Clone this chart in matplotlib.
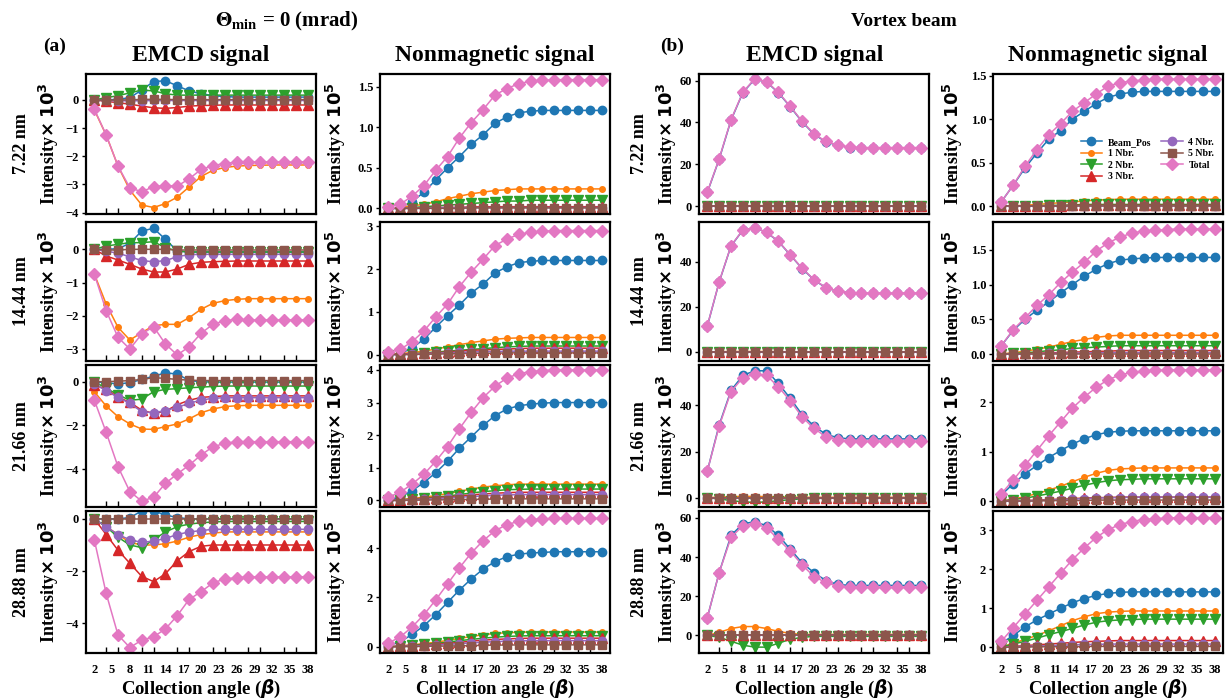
import matplotlib
matplotlib.use('Agg')
import matplotlib.pyplot as plt
from matplotlib.ticker import FixedLocator

plt.rcParams['font.family'] = ['Liberation Serif', 'DejaVu Sans']
plt.rcParams['font.weight'] = 'bold'
plt.rcParams['mathtext.fontset'] = 'dejavusans'

# ---------------- data ----------------
angles = [2, 4, 6, 8, 10, 12, 14, 16, 18, 20, 22, 24, 26, 28, 30, 32, 34, 36, 38]
xtick_values = [2, 5, 8, 11, 14, 17, 20, 23, 26, 29, 32, 35, 38]
series_names = ['Beam_Pos', '1 Nbr.', '2 Nbr.', '3 Nbr.', '4 Nbr.', '5 Nbr.', 'Total']
thickness_labels = ['7.22 nm', '14.44 nm', '21.66 nm', '28.88 nm']

# (a) EMCD signal, x 10^3
a_emcd_722 = {
    'Beam_Pos': [0, 0.0, 0.02, 0.08, 0.35, 0.65, 0.68, 0.5, 0.32, 0.22, 0.15, 0.12, 0.1, 0.1, 0.1, 0.1, 0.1, 0.1, 0.1],
    '1 Nbr.': [-0.35, -1.25, -2.35, -3.2, -3.73, -3.82, -3.68, -3.45, -3.09, -2.72, -2.5, -2.4, -2.35, -2.33, -2.32, -2.31, -2.31, -2.31, -2.31],
    '2 Nbr.': [0, 0.08, 0.15, 0.25, 0.35, 0.32, 0.22, 0.17, 0.17, 0.17, 0.17, 0.17, 0.17, 0.17, 0.17, 0.17, 0.17, 0.17, 0.17],
    '3 Nbr.': [0, -0.05, -0.1, -0.15, -0.22, -0.28, -0.3, -0.27, -0.22, -0.2, -0.19, -0.18, -0.18, -0.18, -0.18, -0.18, -0.18, -0.18, -0.18],
    '4 Nbr.': [0, -0.02, -0.03, -0.03, -0.03, -0.02, -0.02, -0.02, -0.02, -0.02, -0.02, -0.02, -0.02, -0.02, -0.02, -0.02, -0.02, -0.02, -0.02],
    '5 Nbr.': [0, -0.01, 0, 0, 0.02, 0.02, 0.02, 0.01, 0.01, 0.01, 0.01, 0.01, 0.01, 0.01, 0.01, 0.01, 0.01, 0.01, 0.01],
    'Total': [-0.33, -1.24, -2.35, -3.12, -3.26, -3.08, -3.04, -3.06, -2.8, -2.47, -2.33, -2.26, -2.21, -2.2, -2.2, -2.2, -2.2, -2.2, -2.2],
}
a_emcd_1444 = {
    'Beam_Pos': [0, 0, 0.02, 0.18, 0.55, 0.63, 0.3, -0.05, -0.08, -0.08, -0.08, -0.08, -0.08, -0.08, -0.08, -0.08, -0.08, -0.08, -0.08],
    '1 Nbr.': [-0.74, -1.64, -2.34, -2.72, -2.5, -2.29, -2.25, -2.25, -2.05, -1.8, -1.62, -1.54, -1.5, -1.48, -1.48, -1.48, -1.48, -1.48, -1.48],
    '2 Nbr.': [0, 0.1, 0.15, 0.2, 0.2, 0.23, 0.05, -0.05, -0.08, -0.08, -0.08, -0.08, -0.08, -0.08, -0.08, -0.08, -0.08, -0.08, -0.08],
    '3 Nbr.': [0, -0.2, -0.32, -0.45, -0.59, -0.68, -0.68, -0.59, -0.45, -0.39, -0.37, -0.36, -0.35, -0.35, -0.35, -0.35, -0.35, -0.35, -0.35],
    '4 Nbr.': [0, -0.05, -0.12, -0.22, -0.34, -0.37, -0.34, -0.22, -0.16, -0.15, -0.15, -0.15, -0.15, -0.15, -0.15, -0.15, -0.15, -0.15, -0.15],
    '5 Nbr.': [0, -0.02, -0.02, 0, 0, 0, 0, -0.02, -0.02, -0.02, -0.02, -0.02, -0.02, -0.02, -0.02, -0.02, -0.02, -0.02, -0.02],
    'Total': [-0.74, -1.84, -2.64, -2.99, -2.54, -2.32, -2.84, -3.17, -2.92, -2.52, -2.25, -2.14, -2.1, -2.12, -2.12, -2.12, -2.12, -2.12, -2.12],
}
a_emcd_2166 = {
    'Beam_Pos': [0, -0.05, -0.1, -0.05, 0.1, 0.25, 0.4, 0.35, 0.05, 0.0, -0.02, -0.02, -0.02, -0.02, -0.02, -0.02, -0.02, -0.02, -0.02],
    '1 Nbr.': [-0.46, -1.11, -1.6, -1.93, -2.16, -2.18, -2.05, -1.93, -1.7, -1.42, -1.25, -1.14, -1.1, -1.08, -1.08, -1.08, -1.08, -1.08, -1.08],
    '2 Nbr.': [0, -0.3, -0.6, -0.85, -0.8, -0.46, -0.35, -0.32, -0.28, -0.25, -0.22, -0.2, -0.2, -0.2, -0.2, -0.2, -0.2, -0.2, -0.2],
    '3 Nbr.': [-0.15, -0.35, -0.7, -0.95, -1.3, -1.45, -1.35, -1.05, -0.85, -0.72, -0.68, -0.65, -0.65, -0.65, -0.65, -0.65, -0.65, -0.65, -0.65],
    '4 Nbr.': [-0.1, -0.41, -0.72, -0.99, -1.37, -1.42, -1.32, -1.17, -0.99, -0.84, -0.76, -0.73, -0.73, -0.73, -0.73, -0.73, -0.73, -0.73, -0.73],
    '5 Nbr.': [0, 0, 0.02, 0.05, 0.1, 0.18, 0.15, 0.1, 0.07, 0.05, 0.05, 0.05, 0.05, 0.05, 0.05, 0.05, 0.05, 0.05, 0.05],
    'Total': [-0.84, -2.31, -3.88, -5.02, -5.45, -5.28, -4.64, -4.21, -3.81, -3.35, -2.97, -2.82, -2.74, -2.74, -2.74, -2.74, -2.74, -2.74, -2.74],
}
a_emcd_2888 = {
    'Beam_Pos': [0, 0, 0, 0.05, 0.3, 0.3, 0.15, 0.05, 0, 0, 0, 0, 0, 0, 0, 0, 0, 0, 0],
    '1 Nbr.': [0, -0.3, -0.6, -0.9, -1.0, -1.0, -0.95, -0.85, -0.7, -0.6, -0.55, -0.5, -0.5, -0.5, -0.5, -0.5, -0.5, -0.5, -0.5],
    '2 Nbr.': [0, -0.3, -0.7, -1.0, -1.1, -0.8, -0.5, -0.3, -0.2, -0.15, -0.12, -0.1, -0.1, -0.1, -0.1, -0.1, -0.1, -0.1, -0.1],
    '3 Nbr.': [0, -0.6, -1.2, -1.7, -2.2, -2.4, -2.1, -1.6, -1.25, -1.05, -1.0, -1.0, -1.0, -1.0, -1.0, -1.0, -1.0, -1.0, -1.0],
    '4 Nbr.': [0, -0.3, -0.6, -0.8, -0.9, -0.85, -0.75, -0.6, -0.5, -0.45, -0.4, -0.4, -0.4, -0.4, -0.4, -0.4, -0.4, -0.4, -0.4],
    '5 Nbr.': [0, 0, 0, 0, 0, 0, 0, 0, 0, 0, 0, 0, 0, 0, 0, 0, 0, 0, 0],
    'Total': [-0.8, -2.85, -4.44, -4.92, -4.64, -4.51, -4.21, -3.7, -3.08, -2.79, -2.45, -2.3, -2.25, -2.22, -2.22, -2.22, -2.22, -2.22, -2.22],
}

# (a) Nonmagnetic signal, x 10^5
a_nonmag_722 = {
    'Beam_Pos': [0.0, 0.01, 0.08, 0.2, 0.35, 0.5, 0.64, 0.79, 0.91, 1.05, 1.13, 1.18, 1.2, 1.21, 1.21, 1.21, 1.21, 1.21, 1.21],
    '1 Nbr.': [0, 0.01, 0.03, 0.05, 0.08, 0.12, 0.15, 0.18, 0.2, 0.22, 0.23, 0.24, 0.24, 0.24, 0.24, 0.24, 0.24, 0.24, 0.24],
    '2 Nbr.': [0, 0, 0.01, 0.02, 0.03, 0.04, 0.05, 0.06, 0.07, 0.08, 0.09, 0.09, 0.1, 0.1, 0.1, 0.1, 0.1, 0.1, 0.1],
    '3 Nbr.': [0, 0, 0, 0.01, 0.01, 0.01, 0.01, 0.02, 0.02, 0.02, 0.02, 0.02, 0.02, 0.02, 0.02, 0.02, 0.02, 0.02, 0.02],
    '4 Nbr.': [0, 0, 0, 0, 0.01, 0.01, 0.01, 0.01, 0.01, 0.01, 0.01, 0.01, 0.01, 0.01, 0.01, 0.01, 0.01, 0.01, 0.01],
    '5 Nbr.': [0, 0, 0, 0, 0, 0, 0, 0.005, 0.005, 0.005, 0.005, 0.005, 0.005, 0.005, 0.005, 0.005, 0.005, 0.005, 0.005],
    'Total': [0.02, 0.05, 0.15, 0.28, 0.47, 0.64, 0.87, 1.06, 1.22, 1.4, 1.48, 1.54, 1.57, 1.58, 1.59, 1.59, 1.59, 1.59, 1.59],
}
a_nonmag_1444 = {
    'Beam_Pos': [0, 0.02, 0.15, 0.36, 0.64, 0.91, 1.16, 1.44, 1.65, 1.91, 2.05, 2.15, 2.18, 2.2, 2.2, 2.2, 2.2, 2.2, 2.2],
    '1 Nbr.': [0, 0.02, 0.05, 0.08, 0.13, 0.18, 0.23, 0.28, 0.32, 0.36, 0.38, 0.39, 0.4, 0.4, 0.4, 0.4, 0.4, 0.4, 0.4],
    '2 Nbr.': [0, 0.01, 0.02, 0.04, 0.06, 0.08, 0.1, 0.12, 0.14, 0.16, 0.18, 0.19, 0.2, 0.2, 0.2, 0.2, 0.2, 0.2, 0.2],
    '3 Nbr.': [0, 0.01, 0.02, 0.03, 0.04, 0.06, 0.08, 0.1, 0.11, 0.12, 0.13, 0.14, 0.15, 0.15, 0.15, 0.15, 0.15, 0.15, 0.15],
    '4 Nbr.': [0, 0, 0.01, 0.02, 0.03, 0.04, 0.05, 0.06, 0.07, 0.07, 0.08, 0.08, 0.08, 0.08, 0.08, 0.08, 0.08, 0.08, 0.08],
    '5 Nbr.': [0, 0, 0, 0.01, 0.01, 0.02, 0.02, 0.03, 0.03, 0.03, 0.04, 0.04, 0.04, 0.04, 0.04, 0.04, 0.04, 0.04, 0.04],
    'Total': [0.05, 0.12, 0.3, 0.55, 0.88, 1.18, 1.59, 1.93, 2.23, 2.55, 2.7, 2.81, 2.86, 2.88, 2.9, 2.9, 2.9, 2.9, 2.9],
}
a_nonmag_2166 = {
    'Beam_Pos': [0.02, 0.1, 0.3, 0.55, 0.85, 1.2, 1.6, 1.95, 2.3, 2.6, 2.8, 2.9, 2.95, 2.98, 3.0, 3.0, 3.0, 3.0, 3.0],
    '1 Nbr.': [0, 0.03, 0.06, 0.1, 0.15, 0.21, 0.28, 0.35, 0.41, 0.45, 0.48, 0.5, 0.5, 0.5, 0.5, 0.5, 0.5, 0.5, 0.5],
    '2 Nbr.': [0, 0.02, 0.04, 0.07, 0.1, 0.14, 0.18, 0.23, 0.27, 0.3, 0.33, 0.34, 0.35, 0.35, 0.35, 0.35, 0.35, 0.35, 0.35],
    '3 Nbr.': [0, 0.01, 0.03, 0.05, 0.08, 0.11, 0.14, 0.17, 0.2, 0.22, 0.24, 0.25, 0.25, 0.25, 0.25, 0.25, 0.25, 0.25, 0.25],
    '4 Nbr.': [0, 0.01, 0.02, 0.04, 0.06, 0.08, 0.1, 0.12, 0.14, 0.16, 0.17, 0.18, 0.18, 0.18, 0.18, 0.18, 0.18, 0.18, 0.18],
    '5 Nbr.': [0, 0, 0.01, 0.01, 0.02, 0.02, 0.03, 0.03, 0.04, 0.04, 0.05, 0.05, 0.05, 0.05, 0.05, 0.05, 0.05, 0.05, 0.05],
    'Total': [0.1, 0.25, 0.5, 0.8, 1.2, 1.65, 2.2, 2.7, 3.15, 3.5, 3.75, 3.88, 3.95, 3.98, 4.0, 4.0, 4.0, 4.0, 4.0],
}
a_nonmag_2888 = {
    'Beam_Pos': [0.05, 0.2, 0.5, 0.85, 1.3, 1.8, 2.3, 2.75, 3.15, 3.45, 3.65, 3.75, 3.8, 3.82, 3.85, 3.85, 3.85, 3.85, 3.85],
    '1 Nbr.': [0, 0.04, 0.08, 0.13, 0.19, 0.26, 0.34, 0.42, 0.49, 0.54, 0.57, 0.59, 0.6, 0.6, 0.6, 0.6, 0.6, 0.6, 0.6],
    '2 Nbr.': [0, 0.03, 0.06, 0.1, 0.14, 0.19, 0.25, 0.3, 0.35, 0.39, 0.42, 0.44, 0.45, 0.45, 0.45, 0.45, 0.45, 0.45, 0.45],
    '3 Nbr.': [0, 0.02, 0.04, 0.07, 0.1, 0.14, 0.18, 0.23, 0.27, 0.3, 0.32, 0.34, 0.35, 0.35, 0.35, 0.35, 0.35, 0.35, 0.35],
    '4 Nbr.': [0, 0.02, 0.03, 0.05, 0.07, 0.1, 0.13, 0.16, 0.19, 0.21, 0.23, 0.24, 0.25, 0.25, 0.25, 0.25, 0.25, 0.25, 0.25],
    '5 Nbr.': [0, 0.01, 0.01, 0.02, 0.03, 0.03, 0.04, 0.05, 0.06, 0.07, 0.07, 0.08, 0.08, 0.08, 0.08, 0.08, 0.08, 0.08, 0.08],
    'Total': [0.15, 0.4, 0.8, 1.3, 1.9, 2.55, 3.2, 3.8, 4.3, 4.7, 4.95, 5.08, 5.15, 5.18, 5.2, 5.2, 5.2, 5.2, 5.2],
}

# (b) Vortex beam, EMCD signal, x 10^3
b_emcd_722 = {
    'Beam_Pos': [6.5, 22.4, 41.1, 54.3, 60.7, 59.4, 54.2, 47.5, 40.3, 34.4, 30.7, 29.1, 28.0, 27.8, 27.8, 27.8, 27.8, 27.8, 27.8],
    '1 Nbr.': [0, 0.1, 0.2, 0.2, 0.2, 0.2, 0.1, 0.1, 0.1, 0.1, 0.1, 0.1, 0.1, 0.1, 0.1, 0.1, 0.1, 0.1, 0.1],
    '2 Nbr.': [0, 0, 0, 0, 0, 0, 0, 0, 0, 0, 0, 0, 0, 0, 0, 0, 0, 0, 0],
    '3 Nbr.': [0, 0, 0, 0, 0, 0, 0, 0, 0, 0, 0, 0, 0, 0, 0, 0, 0, 0, 0],
    '4 Nbr.': [0, 0, 0, 0, 0, 0, 0, 0, 0, 0, 0, 0, 0, 0, 0, 0, 0, 0, 0],
    '5 Nbr.': [0, 0, 0, 0, 0, 0, 0, 0, 0, 0, 0, 0, 0, 0, 0, 0, 0, 0, 0],
    'Total': [6.6, 22.6, 41.3, 54.5, 60.9, 59.6, 54.4, 47.7, 40.5, 34.6, 30.9, 29.3, 28.2, 28.0, 28.0, 28.0, 28.0, 28.0, 28.0],
}
b_emcd_1444 = {
    'Beam_Pos': [11.4, 30.9, 46.9, 53.9, 54.9, 52.9, 48.9, 42.9, 36.9, 31.9, 28.4, 26.9, 26.2, 25.9, 25.9, 25.9, 25.9, 25.9, 25.9],
    '1 Nbr.': [0, 0.1, 0.2, 0.2, 0.2, 0.2, 0.1, 0.1, 0.1, 0.1, 0.1, 0.1, 0.1, 0.1, 0.1, 0.1, 0.1, 0.1, 0.1],
    '2 Nbr.': [0, 0, 0, 0, 0, 0, 0, 0, 0, 0, 0, 0, 0, 0, 0, 0, 0, 0, 0],
    '3 Nbr.': [0, 0, 0, 0, 0, 0, 0, 0, 0, 0, 0, 0, 0, 0, 0, 0, 0, 0, 0],
    '4 Nbr.': [0, 0, 0, 0, 0, 0, 0, 0, 0, 0, 0, 0, 0, 0, 0, 0, 0, 0, 0],
    '5 Nbr.': [0, 0, 0, 0, 0, 0, 0, 0, 0, 0, 0, 0, 0, 0, 0, 0, 0, 0, 0],
    'Total': [11.5, 31.0, 47.0, 54.0, 55.0, 53.0, 49.0, 43.0, 37.0, 32.0, 28.5, 27.0, 26.3, 26.0, 26.0, 26.0, 26.0, 26.0, 26.0],
}
b_emcd_2166 = {
    'Beam_Pos': [11.5, 31.5, 46.5, 53.0, 55.0, 55.0, 49.5, 43.0, 36.0, 31.0, 27.5, 26.0, 25.5, 25.5, 25.5, 25.5, 25.5, 25.5, 25.5],
    '1 Nbr.': [0, 0.3, 0.5, 0.6, 0.6, 0.5, 0.4, 0.3, 0.2, 0.2, 0.2, 0.2, 0.2, 0.2, 0.2, 0.2, 0.2, 0.2, 0.2],
    '2 Nbr.': [0, -0.5, -1.2, -1.8, -2.0, -1.8, -1.3, -0.8, -0.5, -0.3, -0.2, -0.2, -0.2, -0.2, -0.2, -0.2, -0.2, -0.2, -0.2],
    '3 Nbr.': [0, 0, 0, 0, 0, 0, 0, 0, 0, 0, 0, 0, 0, 0, 0, 0, 0, 0, 0],
    '4 Nbr.': [0, 0, 0, 0, 0, 0, 0, 0, 0, 0, 0, 0, 0, 0, 0, 0, 0, 0, 0],
    '5 Nbr.': [0, 0, 0, 0, 0, 0, 0, 0, 0, 0, 0, 0, 0, 0, 0, 0, 0, 0, 0],
    'Total': [11.5, 31.0, 46.0, 52.0, 53.5, 53.0, 48.0, 42.0, 35.0, 30.0, 26.5, 25.0, 24.5, 24.5, 24.5, 24.5, 24.5, 24.5, 24.5],
}
b_emcd_2888 = {
    'Beam_Pos': [9.0, 32.0, 51.0, 57.0, 58.0, 56.0, 51.0, 44.0, 37.0, 32.0, 28.0, 26.0, 25.5, 25.5, 25.5, 25.5, 25.5, 25.5, 25.5],
    '1 Nbr.': [0, 1.5, 3.5, 4.5, 4.5, 3.5, 2.0, 1.0, 0.5, 0.5, 0.5, 0.5, 0.5, 0.5, 0.5, 0.5, 0.5, 0.5, 0.5],
    '2 Nbr.': [0, -1.0, -3.0, -5.0, -6.0, -6.0, -4.0, -2.0, -1.0, -0.5, -0.5, -0.5, -0.5, -0.5, -0.5, -0.5, -0.5, -0.5, -0.5],
    '3 Nbr.': [0, 0, 0, 0, 0, 0, 0, 0, 0, 0, 0, 0, 0, 0, 0, 0, 0, 0, 0],
    '4 Nbr.': [0, 0, 0, 0, 0, 0, 0, 0, 0, 0, 0, 0, 0, 0, 0, 0, 0, 0, 0],
    '5 Nbr.': [0, 0, 0, 0, 0, 0, 0, 0, 0, 0, 0, 0, 0, 0, 0, 0, 0, 0, 0],
    'Total': [9.0, 32.0, 50.0, 56.0, 57.0, 55.0, 49.0, 43.0, 36.0, 30.0, 27.0, 25.0, 24.5, 24.5, 24.5, 24.5, 24.5, 24.5, 24.5],
}

# (b) Vortex beam, Nonmagnetic signal, x 10^5
b_nonmag_722 = {
    'Beam_Pos': [0.05, 0.24, 0.44, 0.61, 0.77, 0.87, 1.0, 1.09, 1.18, 1.25, 1.29, 1.31, 1.32, 1.32, 1.32, 1.32, 1.32, 1.32, 1.32],
    '1 Nbr.': [0, 0.005, 0.01, 0.02, 0.03, 0.04, 0.05, 0.06, 0.07, 0.075, 0.08, 0.08, 0.08, 0.08, 0.08, 0.08, 0.08, 0.08, 0.08],
    '2 Nbr.': [0, 0, 0, 0.005, 0.01, 0.01, 0.015, 0.02, 0.02, 0.02, 0.02, 0.02, 0.02, 0.02, 0.02, 0.02, 0.02, 0.02, 0.02],
    '3 Nbr.': [0, 0, 0, 0, 0.005, 0.005, 0.01, 0.01, 0.01, 0.01, 0.01, 0.01, 0.01, 0.01, 0.01, 0.01, 0.01, 0.01, 0.01],
    '4 Nbr.': [0, 0, 0, 0, 0, 0, 0.005, 0.005, 0.005, 0.005, 0.005, 0.005, 0.005, 0.005, 0.005, 0.005, 0.005, 0.005, 0.005],
    '5 Nbr.': [0, 0, 0, 0, 0, 0, 0, 0, 0, 0, 0, 0, 0, 0, 0, 0, 0, 0, 0],
    'Total': [0.05, 0.24, 0.46, 0.65, 0.82, 0.95, 1.09, 1.19, 1.29, 1.38, 1.42, 1.44, 1.45, 1.46, 1.46, 1.46, 1.46, 1.46, 1.46],
}
b_nonmag_1444 = {
    'Beam_Pos': [0.12, 0.34, 0.5, 0.63, 0.75, 0.88, 1.0, 1.12, 1.22, 1.3, 1.35, 1.37, 1.38, 1.39, 1.39, 1.39, 1.39, 1.39, 1.39],
    '1 Nbr.': [0, 0.02, 0.04, 0.07, 0.1, 0.14, 0.18, 0.21, 0.24, 0.26, 0.27, 0.27, 0.27, 0.27, 0.27, 0.27, 0.27, 0.27, 0.27],
    '2 Nbr.': [0, 0.01, 0.02, 0.03, 0.05, 0.06, 0.08, 0.09, 0.1, 0.11, 0.12, 0.12, 0.12, 0.12, 0.12, 0.12, 0.12, 0.12, 0.12],
    '3 Nbr.': [0, 0, 0.01, 0.01, 0.02, 0.02, 0.03, 0.03, 0.04, 0.04, 0.05, 0.05, 0.05, 0.05, 0.05, 0.05, 0.05, 0.05, 0.05],
    '4 Nbr.': [0, 0, 0, 0.005, 0.01, 0.01, 0.01, 0.015, 0.02, 0.02, 0.02, 0.02, 0.02, 0.02, 0.02, 0.02, 0.02, 0.02, 0.02],
    '5 Nbr.': [0, 0, 0, 0, 0, 0, 0, 0, 0, 0, 0, 0, 0, 0, 0, 0, 0, 0, 0],
    'Total': [0.12, 0.35, 0.52, 0.7, 0.85, 1.03, 1.18, 1.32, 1.48, 1.6, 1.68, 1.74, 1.77, 1.78, 1.79, 1.8, 1.8, 1.8, 1.8],
}
b_nonmag_2166 = {
    'Beam_Pos': [0.12, 0.35, 0.55, 0.72, 0.88, 1.02, 1.15, 1.26, 1.34, 1.39, 1.41, 1.42, 1.42, 1.42, 1.42, 1.42, 1.42, 1.42, 1.42],
    '1 Nbr.': [0, 0.04, 0.09, 0.15, 0.22, 0.3, 0.39, 0.48, 0.56, 0.62, 0.65, 0.66, 0.67, 0.67, 0.67, 0.67, 0.67, 0.67, 0.67],
    '2 Nbr.': [0, 0.03, 0.06, 0.1, 0.15, 0.2, 0.26, 0.32, 0.37, 0.41, 0.43, 0.44, 0.45, 0.45, 0.45, 0.45, 0.45, 0.45, 0.45],
    '3 Nbr.': [0, 0.01, 0.01, 0.02, 0.03, 0.04, 0.05, 0.06, 0.07, 0.07, 0.08, 0.08, 0.08, 0.08, 0.08, 0.08, 0.08, 0.08, 0.08],
    '4 Nbr.': [0, 0, 0.01, 0.01, 0.02, 0.03, 0.04, 0.05, 0.06, 0.07, 0.07, 0.08, 0.08, 0.08, 0.08, 0.08, 0.08, 0.08, 0.08],
    '5 Nbr.': [0, 0, 0, 0, 0.01, 0.01, 0.01, 0.01, 0.02, 0.02, 0.02, 0.02, 0.02, 0.02, 0.02, 0.02, 0.02, 0.02, 0.02],
    'Total': [0.15, 0.42, 0.72, 1.02, 1.32, 1.6, 1.88, 2.1, 2.3, 2.45, 2.55, 2.6, 2.63, 2.64, 2.65, 2.65, 2.65, 2.65, 2.65],
}
b_nonmag_2888 = {
    'Beam_Pos': [0.1, 0.3, 0.52, 0.7, 0.85, 1.0, 1.14, 1.25, 1.33, 1.38, 1.41, 1.42, 1.42, 1.42, 1.42, 1.42, 1.42, 1.42, 1.42],
    '1 Nbr.': [0, 0.1, 0.2, 0.3, 0.42, 0.55, 0.68, 0.78, 0.86, 0.9, 0.92, 0.93, 0.93, 0.93, 0.93, 0.93, 0.93, 0.93, 0.93],
    '2 Nbr.': [0, 0.08, 0.15, 0.23, 0.32, 0.4, 0.48, 0.57, 0.64, 0.68, 0.7, 0.71, 0.72, 0.72, 0.72, 0.72, 0.72, 0.72, 0.72],
    '3 Nbr.': [0, 0.02, 0.04, 0.06, 0.08, 0.1, 0.12, 0.14, 0.15, 0.16, 0.17, 0.17, 0.17, 0.17, 0.17, 0.17, 0.17, 0.17, 0.17],
    '4 Nbr.': [0, 0.01, 0.02, 0.03, 0.04, 0.05, 0.06, 0.07, 0.07, 0.08, 0.08, 0.08, 0.08, 0.08, 0.08, 0.08, 0.08, 0.08, 0.08],
    '5 Nbr.': [0, 0, 0, 0.01, 0.01, 0.01, 0.01, 0.02, 0.02, 0.02, 0.02, 0.02, 0.02, 0.02, 0.02, 0.02, 0.02, 0.02, 0.02],
    'Total': [0.15, 0.5, 0.85, 1.2, 1.55, 1.9, 2.25, 2.55, 2.82, 3.02, 3.15, 3.23, 3.28, 3.3, 3.32, 3.33, 3.33, 3.33, 3.33],
}

# ---------------- style ----------------
colors = ['#1f77b4', '#ff7f0e', '#2ca02c', '#d62728', '#9467bd', '#8c564b', '#e377c2']
markers = ['o', 'o', 'v', '^', 'o', 's', 'D']
msizes = [6, 4, 6.5, 6.5, 6, 5.5, 6.5]

W, H = 1232, 699
fig = plt.figure(figsize=(W / 100, H / 100), dpi=100)

col_left = [86, 380, 699, 993]
col_w = 230
row_top = [74, 222, 365, 511]
row_bot = [214, 361, 507, 653]

panels = [
    [a_emcd_722, a_nonmag_722, b_emcd_722, b_nonmag_722],
    [a_emcd_1444, a_nonmag_1444, b_emcd_1444, b_nonmag_1444],
    [a_emcd_2166, a_nonmag_2166, b_emcd_2166, b_nonmag_2166],
    [a_emcd_2888, a_nonmag_2888, b_emcd_2888, b_nonmag_2888],
]
ylims = [
    [(-4.05, 0.92), (-0.07, 1.66), (-3.8, 63.2), (-0.09, 1.52)],
    [(-3.35, 0.82), (-0.15, 3.1), (-4, 57.5), (-0.1, 1.9)],
    [(-5.72, 0.76), (-0.2, 4.15), (-4, 57.5), (-0.12, 2.75)],
    [(-5.13, 0.3), (-0.25, 5.5), (-9, 63.5), (-0.15, 3.5)],
]
yticks = [
    [[-4, -3, -2, -1, 0], [0.0, 0.5, 1.0, 1.5], [0, 20, 40, 60], [0.0, 0.5, 1.0, 1.5]],
    [[-3, -2, -1, 0], [0, 1, 2, 3], [0, 20, 40], [0.0, 0.5, 1.0, 1.5]],
    [[-4, -2, 0], [0, 1, 2, 3, 4], [0, 20, 40], [0, 1, 2]],
    [[-4, -2, 0], [0, 2, 4], [0, 20, 40, 60], [0, 1, 2, 3]],
]

for r in range(4):
    for c in range(4):
        data = panels[r][c]
        ax = fig.add_axes([col_left[c] / W, 1 - row_bot[r] / H, col_w / W,
                           (row_bot[r] - row_top[r]) / H])
        for i, name in enumerate(series_names):
            ax.plot(angles, data[name], color=colors[i], marker=markers[i],
                    markersize=msizes[i], linewidth=1.1, label=name)
        ax.set_xlim(0.6, 39.4)
        ax.set_ylim(*ylims[r][c])
        ax.set_yticks(yticks[r][c])
        ax.set_xticks(xtick_values)
        ax.xaxis.set_minor_locator(FixedLocator(angles))
        ax.tick_params(axis='x', which='major', length=0, labelsize=9, pad=8)
        ax.tick_params(axis='x', which='minor', direction='in', length=4, width=1)
        ax.tick_params(axis='y', direction='out', length=3, width=1, labelsize=9, pad=2)
        for lab in ax.get_xticklabels() + ax.get_yticklabels():
            lab.set_fontweight('bold')
        for sp in ax.spines.values():
            sp.set_linewidth(1.6)
        if r < 3:
            ax.set_xticklabels([])
        else:
            ax.set_xlabel(r'Collection angle ($\mathbfit{\beta}$)', fontsize=13.5,
                          fontweight='bold', labelpad=1)
        if r == 0 and c == 3:
            ax.legend(ncol=2, loc='center right', bbox_to_anchor=(1.0, 0.39),
                      frameon=False, prop={'size': 7, 'weight': 'bold'},
                      handlelength=2.2, columnspacing=1.0, labelspacing=0.25,
                      handletextpad=0.6)
        yc = 1 - (row_top[r] + row_bot[r]) / 2 / H
        if c in (0, 2):
            xo = 22 if c == 0 else 640
            fig.text(xo / W, yc, thickness_labels[r], rotation=90, ha='center',
                     va='center', fontsize=13, fontweight='bold')
            xi = 49 if c == 0 else 667
            fig.text(xi / W, yc, r'Intensity$\mathbf{\times}$ $\mathbf{10^3}$', rotation=90,
                     ha='center', va='center', fontsize=13, fontweight='bold')
        else:
            xi = 336 if c == 1 else 953
            fig.text(xi / W, yc, r'Intensity$\mathbf{\times}$ $\mathbf{10^5}$', rotation=90,
                     ha='center', va='center', fontsize=13, fontweight='bold')

# headers
fig.text(287 / W, 1 - 21 / H, r'$\mathbf{\Theta_{min}}$ = 0 (mrad)', ha='center', va='center',
         fontsize=15, fontweight='bold', math_fontfamily='stix')
fig.text(904 / W, 1 - 21 / H, 'Vortex beam', ha='center', va='center',
         fontsize=14, fontweight='bold')
fig.text(55 / W, 1 - 46 / H, '(a)', ha='center', va='center', fontsize=14, fontweight='bold')
fig.text(672 / W, 1 - 46 / H, '(b)', ha='center', va='center', fontsize=14, fontweight='bold')
for cx, txt in [(201, 'EMCD signal'), (495, 'Nonmagnetic signal'),
                (815, 'EMCD signal'), (1108, 'Nonmagnetic signal')]:
    fig.text(cx / W, 1 - 56 / H, txt, ha='center', va='center', fontsize=17, fontweight='bold')

fig.savefig('out.png', dpi=100)
